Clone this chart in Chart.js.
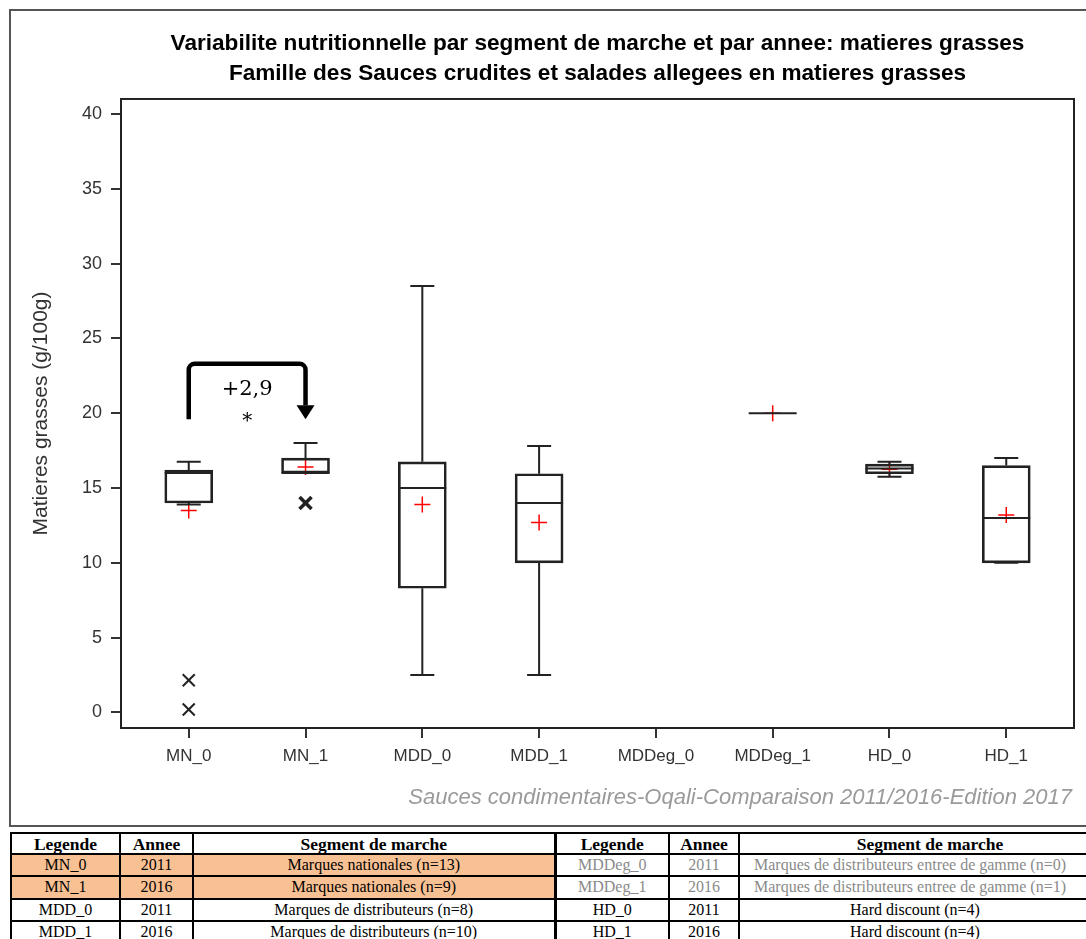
<!DOCTYPE html>
<html>
<head>
<meta charset="utf-8">
<title>Variabilite nutritionnelle - matieres grasses</title>
<script src="https://cdn.jsdelivr.net/npm/chart.js@4.4.0/dist/chart.umd.min.js"></script>
<style>
  body { margin: 0; background: #fff; width: 1086px; height: 939px; overflow: hidden; position: relative; }
  #chart { position: absolute; left: 0; top: 0; }
  .footer { position: absolute; right: 14px; top: 784px; font: italic 22px "Liberation Sans", Arial, sans-serif; color: #9a9a9a; line-height: 26px; white-space: nowrap; }
  table { position: absolute; left: 10px; top: 832px; width: 1110px; border-collapse: collapse; table-layout: fixed; font: 16px "Liberation Serif", serif; color: #000; }
  td, th { border: 2px solid #000; padding: 0; text-align: center; white-space: nowrap; overflow: hidden; line-height: 18px; }
  th { font-weight: bold; font-size: 17.5px; height: 19px; }
  td { height: 20.3px; }
  .sep { border-right-width: 3px; }
  .hl { background: #f8c194; }
  .dim { color: #8a8a8a; }
</style>
</head>
<body>
<canvas id="chart" width="1086" height="830"></canvas>
<div class="footer">Sauces condimentaires-Oqali-Comparaison 2011/2016-Edition 2017</div>

<table>
  <colgroup>
    <col style="width:109px"><col style="width:73px"><col style="width:362px">
    <col style="width:114px"><col style="width:70px"><col style="width:382px">
  </colgroup>
  <tr><th>Legende</th><th>Annee</th><th class="sep">Segment de marche</th><th>Legende</th><th>Annee</th><th>Segment de marche</th></tr>
  <tr><td class="hl">MN_0</td><td class="hl">2011</td><td class="hl sep">Marques nationales (n=13)</td><td class="dim">MDDeg_0</td><td class="dim">2011</td><td class="dim" style="text-align:left;padding-left:14px">Marques de distributeurs entree de gamme (n=0)</td></tr>
  <tr><td class="hl">MN_1</td><td class="hl">2016</td><td class="hl sep">Marques nationales (n=9)</td><td class="dim">MDDeg_1</td><td class="dim">2016</td><td class="dim" style="text-align:left;padding-left:14px">Marques de distributeurs entree de gamme (n=1)</td></tr>
  <tr><td>MDD_0</td><td>2011</td><td class="sep">Marques de distributeurs (n=8)</td><td>HD_0</td><td>2011</td><td style="text-align:left;padding-left:110px">Hard discount (n=4)</td></tr>
  <tr><td>MDD_1</td><td>2016</td><td class="sep">Marques de distributeurs (n=10)</td><td>HD_1</td><td>2016</td><td style="text-align:left;padding-left:110px">Hard discount (n=4)</td></tr>
</table>

<script>
// categories + box stats (g/100g)
const categories = ['MN_0', 'MN_1', 'MDD_0', 'MDD_1', 'MDDeg_0', 'MDDeg_1', 'HD_0', 'HD_1'];
const whiskerLow  = [13.9, 16.0, 2.5, 2.5, null, 20.0, 15.75, 10.0];
const q1          = [14.0, 16.0, 8.3, 10.0, null, 20.0, 15.95, 10.0];
const median      = [16.0, 16.0, 15.0, 14.0, null, 20.0, 16.3, 13.0];
const q3          = [16.2, 17.0, 16.75, 15.95, null, 20.0, 16.6, 16.5];
const whiskerHigh = [16.75, 18.0, 28.5, 17.8, null, 20.0, 16.75, 17.0];
const means       = [13.5, 16.4, 13.9, 12.7, null, 20.0, 16.25, 13.2];

// outliers: category index + value
const outlierCat = [0, 0, 1];
const outlierVal = [2.15, 0.2, 14.0];

const yTicks = [0, 5, 10, 15, 20, 25, 30, 35, 40];

// MN_0 -> MN_1 evolution arrow
const evolution = { from: 0, to: 1, low: 19.6, high: 23.3, label: '+2,9', labelY: 21.6, star: '*', starY: 19.7 };

const boxData = [];
const meanData = [];
categories.forEach((c, i) => {
  if (q1[i] == null) return;
  boxData.push({ x: i, y: [q1[i], q3[i]] });
  meanData.push({ x: i, y: means[i] });
});
const outlierData = outlierCat.map((c, k) => ({ x: c, y: outlierVal[k] }));

const boxPlugin = {
  id: 'boxPlot',
  beforeDraw(chart) {
    const ctx = chart.ctx;
    ctx.save();
    ctx.strokeStyle = '#555';
    ctx.lineWidth = 2;
    ctx.strokeRect(10, 10, 1090, 816);
    ctx.restore();
  },
  beforeDatasetsDraw(chart) {
    const { ctx, chartArea: a } = chart;
    ctx.save();
    ctx.strokeStyle = '#222';
    ctx.lineWidth = 2;
    ctx.strokeRect(a.left, a.top, a.right - a.left, a.bottom - a.top);
    ctx.restore();
  },
  afterDatasetDraw(chart, args) {
    if (args.index !== 0) return;
    const ctx = chart.ctx;
    const xs = chart.scales.x, ys = chart.scales.y;
    const meta = args.meta;
    ctx.save();
    ctx.strokeStyle = '#222';
    ctx.lineWidth = 2;
    meta.data.forEach((bar, j) => {
      const i = meta.controller.getParsed(j).x;
      const cx = xs.getPixelForValue(i);
      const half = bar.width / 2;
      const cap = half / 2;
      const yLo = ys.getPixelForValue(whiskerLow[i]);
      const yHi = ys.getPixelForValue(whiskerHigh[i]);
      const yQ1 = ys.getPixelForValue(q1[i]);
      const yQ3 = ys.getPixelForValue(q3[i]);
      const yMed = ys.getPixelForValue(median[i]);
      ctx.beginPath();
      // whiskers
      ctx.moveTo(cx, yQ3); ctx.lineTo(cx, yHi);
      ctx.moveTo(cx - cap, yHi); ctx.lineTo(cx + cap, yHi);
      ctx.moveTo(cx, yQ1); ctx.lineTo(cx, yLo);
      ctx.moveTo(cx - cap, yLo); ctx.lineTo(cx + cap, yLo);
      // median
      ctx.moveTo(cx - half, yMed); ctx.lineTo(cx + half, yMed);
      ctx.stroke();
    });
    ctx.restore();
  },
  afterDatasetsDraw(chart) {
    const ctx = chart.ctx;
    const xs = chart.scales.x, ys = chart.scales.y;
    const x0 = xs.getPixelForValue(evolution.from);
    const x1 = xs.getPixelForValue(evolution.to);
    const yLow = ys.getPixelForValue(evolution.low);
    const yHigh = ys.getPixelForValue(evolution.high);
    const head = 14, r = 6;
    ctx.save();
    ctx.strokeStyle = '#000';
    ctx.fillStyle = '#000';
    ctx.lineWidth = 4.5;
    ctx.lineJoin = 'round';
    ctx.beginPath();
    ctx.moveTo(x0, yLow);
    ctx.arcTo(x0, yHigh, x1, yHigh, r);
    ctx.arcTo(x1, yHigh, x1, yLow, r);
    ctx.lineTo(x1, yLow - head);
    ctx.stroke();
    ctx.beginPath();
    ctx.moveTo(x1 - 9, yLow - head);
    ctx.lineTo(x1 + 9, yLow - head);
    ctx.lineTo(x1, yLow);
    ctx.closePath();
    ctx.fill();
    const mid = xs.getPixelForValue((evolution.from + evolution.to) / 2);
    ctx.textAlign = 'center';
    ctx.textBaseline = 'middle';
    ctx.font = '21px "DejaVu Serif", serif';
    ctx.fillText(evolution.label, mid, ys.getPixelForValue(evolution.labelY));
    ctx.font = '20px "DejaVu Serif", serif';
    ctx.fillText(evolution.star, mid, ys.getPixelForValue(evolution.starY) + 4);
    ctx.restore();
  }
};

const tickFont = { family: '"Liberation Sans", Arial, sans-serif', size: 17 };

new Chart(document.getElementById('chart'), {
  type: 'bar',
  data: {
    datasets: [
      {
        type: 'bar',
        data: boxData,
        backgroundColor: 'rgba(255,255,255,0)',
        borderColor: '#222',
        borderWidth: 2,
        borderSkipped: false,
        barThickness: 48,
        grouped: false
      },
      {
        type: 'scatter',
        data: meanData,
        showLine: false,
        pointStyle: 'cross',
        pointRadius: 8,
        pointBorderColor: '#ff0000',
        borderColor: '#ff0000',
        pointBorderWidth: 1.5
      },
      {
        type: 'scatter',
        data: outlierData,
        showLine: false,
        pointStyle: 'crossRot',
        pointRadius: 8.5,
        pointBorderColor: '#222',
        borderColor: '#222',
        pointBorderWidth: [2, 2, 3.5]
      }
    ]
  },
  options: {
    responsive: false,
    animation: false,
    devicePixelRatio: 1,
    layout: { padding: { top: 29, left: 27, right: 6, bottom: 0 } },
    plugins: {
      legend: { display: false },
      tooltip: { enabled: false },
      title: {
        display: true,
        fullSize: false,
        text: ['Variabilite nutritionnelle par segment de marche et par annee: matieres grasses',
               'Famille des Sauces crudites et salades allegees en matieres grasses'],
        color: '#000',
        font: { family: '"Liberation Sans", Arial, sans-serif', size: 22.6, weight: 'bold', lineHeight: 1.327 },
        padding: { top: 0, bottom: 10 }
      }
    },
    scales: {
      x: {
        type: 'linear',
        min: -0.58,
        max: 7.58,
        offset: false,
        afterBuildTicks: s => { s.ticks = categories.map((c, i) => ({ value: i })); },
        afterFit: s => { s.height = 102; },
        ticks: { callback: v => categories[v], font: tickFont, color: '#333', padding: 8, autoSkip: false, maxRotation: 0 },
        grid: { drawOnChartArea: false, drawTicks: true, tickLength: 10, color: '#333', lineWidth: 2, offset: false },
        border: { display: false }
      },
      y: {
        min: -1.04,
        max: 41,
        afterBuildTicks: s => { s.ticks = yTicks.map(v => ({ value: v })); },
        afterFit: s => { s.width = 94; },
        ticks: { font: { family: '"Liberation Sans", Arial, sans-serif', size: 18 }, color: '#333', padding: 9 },
        grid: { drawOnChartArea: false, drawTicks: true, tickLength: 10, color: '#333', lineWidth: 2 },
        border: { display: false },
        title: {
          display: true,
          text: 'Matieres grasses (g/100g)',
          color: '#333',
          font: { family: '"Liberation Sans", Arial, sans-serif', size: 21 },
          padding: { top: 2, bottom: 0 }
        }
      }
    }
  },
  plugins: [boxPlugin]
});
</script>
</body>
</html>
